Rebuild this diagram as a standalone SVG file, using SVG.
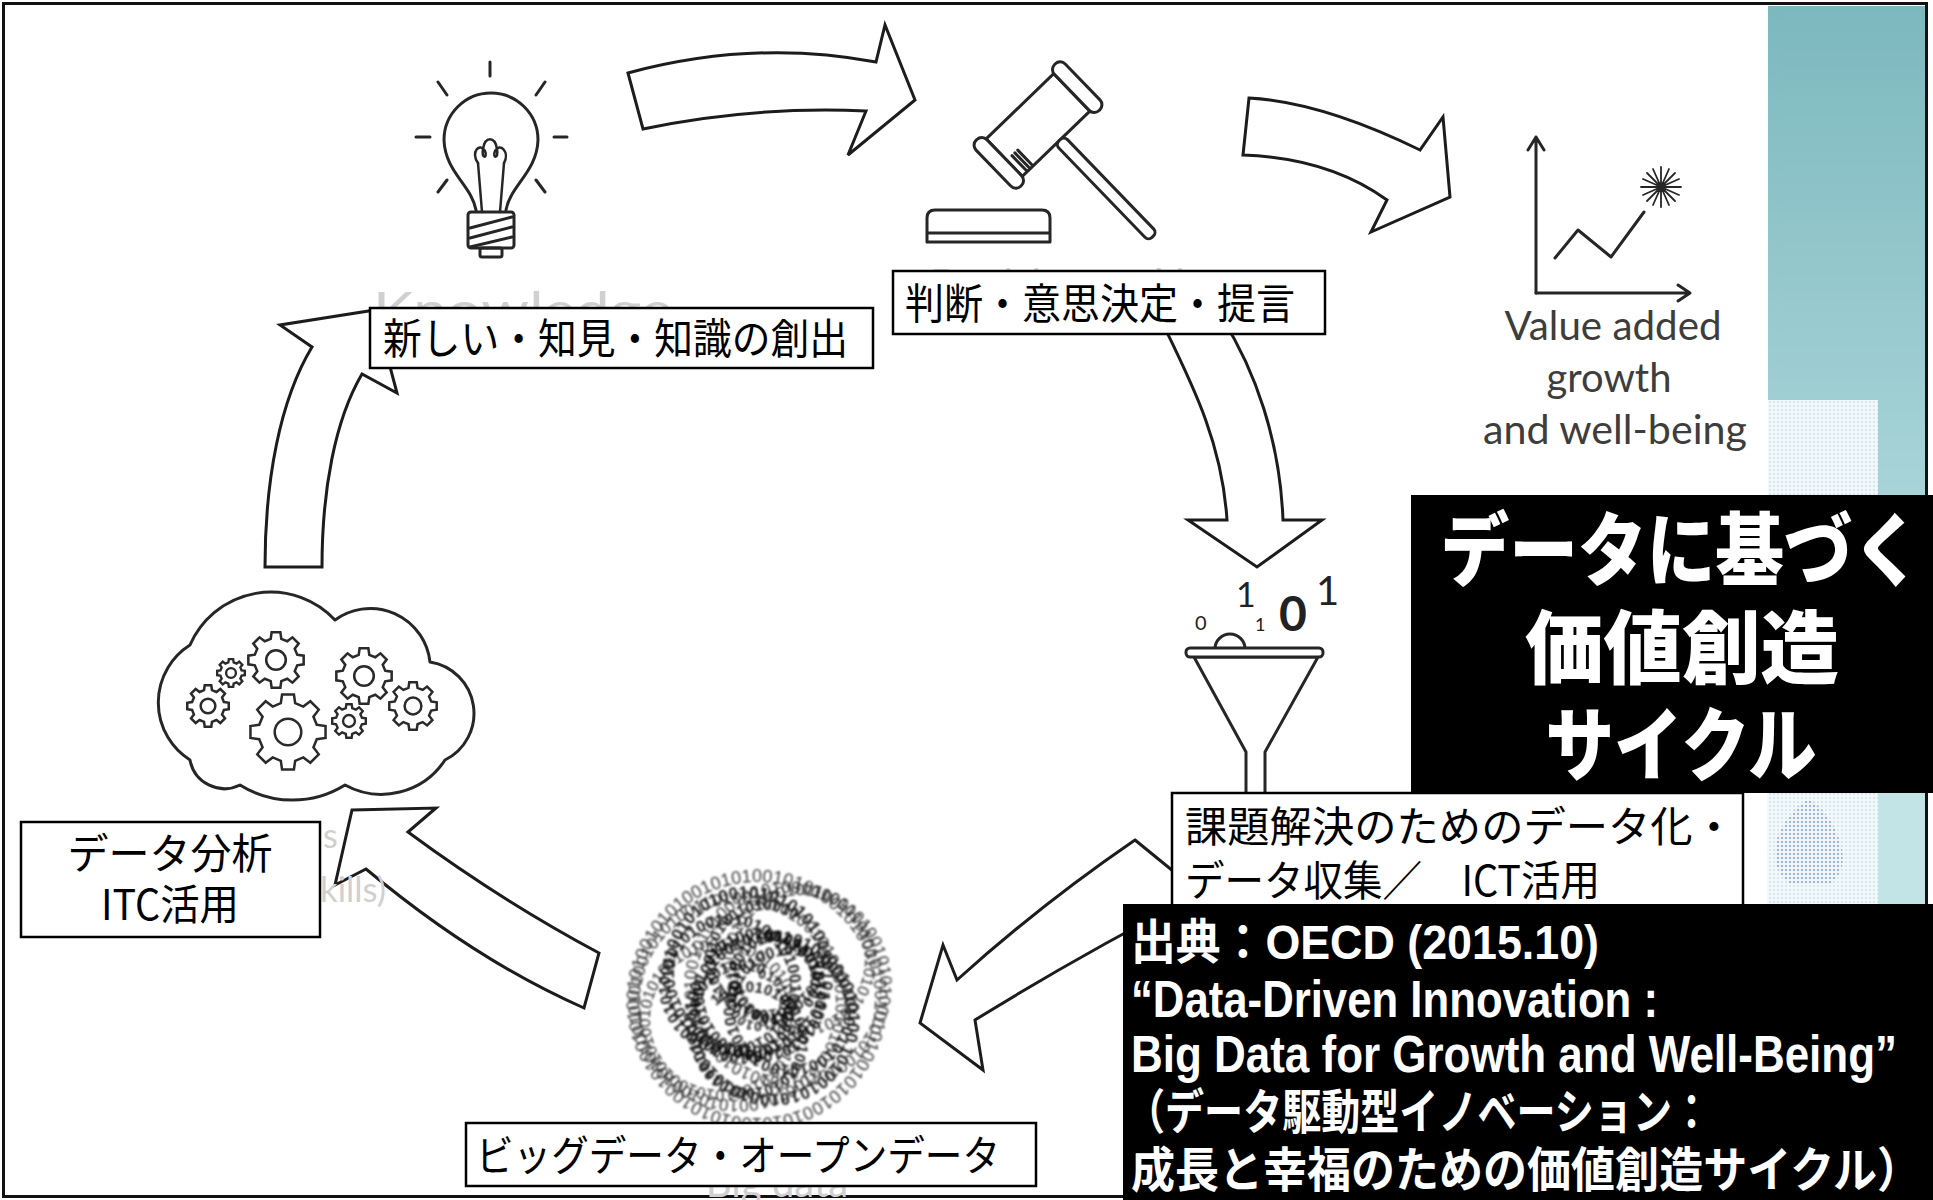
<svg xmlns="http://www.w3.org/2000/svg" width="1933" height="1200" viewBox="0 0 1933 1200">
<defs>
<style>
.arrow{fill:#fff;stroke:#1c1c1c;stroke-width:3;stroke-linejoin:miter}
.icon{fill:none;stroke:#262626;stroke-width:3;stroke-linecap:round;stroke-linejoin:round}
.iconw{fill:#fff;stroke:#262626;stroke-width:3;stroke-linejoin:round}
.box{fill:#fff;stroke:#000;stroke-width:2.5}
.lbl{font-family:'Noto Sans CJK JP','Noto Sans CJK SC',sans-serif;font-size:42px;fill:#000}
.title{font-family:'Noto Sans CJK JP','Noto Sans CJK SC',sans-serif;font-weight:900;font-size:80px;fill:#fff;text-anchor:middle}
.src{font-family:'Liberation Sans','Noto Sans CJK JP',sans-serif;font-weight:700;fill:#fff}
.ghost{font-family:Lato,'Open Sans',sans-serif;fill:#d0d0d0}
.eng{font-family:Lato,'Open Sans',sans-serif;font-size:40px;fill:#3d3d3d;text-anchor:middle}
.bits{font-family:'Liberation Sans',sans-serif}
.digit{font-family:Lato,'Liberation Sans',sans-serif;fill:#222}
.gear{fill:#fff;fill-rule:evenodd;stroke:#2a2a2a}
</style>
<linearGradient id="teal" x1="0" y1="0" x2="0" y2="1">
<stop offset="0" stop-color="#7cb8be"/>
<stop offset="1" stop-color="#a8d4d8"/>
</linearGradient>
<pattern id="dots" width="4" height="4" patternUnits="userSpaceOnUse">
<rect width="4" height="4" fill="#f3f9fa"/>
<rect x="1" y="1" width="2" height="2" fill="#d3e8ec"/>
</pattern>
<pattern id="mapdots" width="4" height="4" patternUnits="userSpaceOnUse">
<rect width="4" height="4" fill="#eef4fb"/>
<rect x="1" y="1" width="2" height="2" fill="#8aa6d8"/>
</pattern>
<filter id="soft" x="-10%" y="-10%" width="120%" height="120%">
<feGaussianBlur stdDeviation="0.9"/>
</filter>
<!-- gear outline, outer radius 100, with centre hole -->
<path id="gear" d="M75.7,-18.9 L98.8,-15.6 L98.8,15.6 L75.7,18.9 L66.9,40.2 L80.9,58.8 L58.8,80.9 L40.2,66.9 L18.9,75.7 L15.6,98.8 L-15.6,98.8 L-18.9,75.7 L-40.2,66.9 L-58.8,80.9 L-80.9,58.8 L-66.9,40.2 L-75.7,18.9 L-98.8,15.6 L-98.8,-15.6 L-75.7,-18.9 L-66.9,-40.2 L-80.9,-58.8 L-58.8,-80.9 L-40.2,-66.9 L-18.9,-75.7 L-15.6,-98.8 L15.6,-98.8 L18.9,-75.7 L40.2,-66.9 L58.8,-80.9 L80.9,-58.8 L66.9,-40.2 Z M35,0 A35,35 0 1,0 -35,0 A35,35 0 1,0 35,0 Z"/>
<!-- rings for the binary tangle -->
<path id="r1" d="M639,1000 a118,118 0 1,1 236,0 a118,118 0 1,1 -236,0"/>
<path id="r2" d="M640,1002 a98,98 0 1,1 196,0 a98,98 0 1,1 -196,0"/>
<path id="r3" d="M696,985 a92,92 0 1,1 184,0 a92,92 0 1,1 -184,0"/>
<path id="r4" d="M674,972 a74,74 0 1,1 148,0 a74,74 0 1,1 -148,0"/>
<path id="r5" d="M696,1018 a76,76 0 1,1 152,0 a76,76 0 1,1 -152,0"/>
<path id="r6" d="M704,995 a56,56 0 1,1 112,0 a56,56 0 1,1 -112,0"/>
<path id="r7" d="M700,1012 a42,42 0 1,1 84,0 a42,42 0 1,1 -84,0"/>
<path id="r8" d="M739,978 a36,36 0 1,1 72,0 a36,36 0 1,1 -72,0"/>
<path id="r9" d="M736,1000 a22,22 0 1,1 44,0 a22,22 0 1,1 -44,0"/>
<path id="r10" d="M670,985 a60,60 0 1,1 120,0 a60,60 0 1,1 -120,0"/>
<path id="r11" d="M735,1010 a55,55 0 1,1 110,0 a55,55 0 1,1 -110,0"/>
<path id="r12" d="M715,960 a50,50 0 1,1 100,0 a50,50 0 1,1 -100,0"/>
<path id="r13" d="M702,1040 a48,48 0 1,1 96,0 a48,48 0 1,1 -96,0"/>
<path id="r14" d="M650,1020 a70,70 0 1,1 140,0 a70,70 0 1,1 -140,0"/>
<path id="r15" d="M735,960 a65,65 0 1,1 130,0 a65,65 0 1,1 -130,0"/>
</defs>

<rect width="1933" height="1200" fill="#fff"/>

<!-- slide decoration on the right -->
<g id="decor">
<rect x="1768" y="6" width="158" height="489" fill="url(#teal)"/>
<rect x="1768" y="400" width="110" height="95" fill="url(#dots)"/>
<rect x="1744" y="793" width="182" height="112" fill="#fff"/>
<rect x="1767" y="793" width="111" height="112" fill="url(#dots)"/>
<rect x="1878" y="793" width="48" height="112" fill="#c3e4e6"/>
<path d="M1808,799 C1822,806 1834,822 1840,842 C1846,860 1842,876 1830,884 L1790,884 C1778,876 1772,860 1776,842 C1782,822 1796,806 1808,799 Z" fill="url(#mapdots)" opacity="0.75"/>
</g>

<!-- outer frame -->
<rect x="3.5" y="3.5" width="1923" height="1193" fill="none" stroke="#111" stroke-width="3"/>

<!-- connectors: block arrows of the cycle -->
<g id="connectors">
<path class="arrow" d="M628,73 Q754,39 876,62 L885,25 L915,100 L848,155 L866,111 Q752,106 643,129 Z"/>
<path class="arrow" d="M1249,98 Q1322,102 1420,150 L1443,117 L1450,197 L1371,232 L1387,200 Q1329,158 1243,155 Z"/>
<path class="arrow" d="M1160,318 C1190,380 1222,440 1227,520 L1188,520 L1257,567 L1322,520 L1283,520 C1280,440 1255,370 1222,318 Z"/>
<path class="arrow" d="M1135,840 L1200,893 Q1080,955 975,1020 L983,1070 L920,1023 L943,945 L957,980 Q1040,905 1135,840 Z"/>
<path class="arrow" d="M352,810 L436,808 L408,832 Q500,900 599,953 L584,1008 Q475,960 366,869 L335,885 Z"/>
<path class="arrow" d="M265,567 C265,480 280,400 312,347 L280,325 L375,310 L397,393 L362,374 C335,420 322,490 322,567 Z"/>
</g>

<!-- knowledge: light bulb -->
<g id="node-knowledge">
<g class="icon">
<path d="M490,62 V76 M438,82 L447,95 M545,82 L536,95 M416,137 H430 M554,137 H567 M438,192 L447,180 M545,192 L536,180"/>
<path d="M476,210 C472,186 445,172 444,140 A47,47 0 1 1 538,140 C537,172 510,186 506,210"/>
<path d="M482,212 L478,163 M500,212 L504,163" stroke-width="2.5"/>
<path d="M478,163 C470,152 480,142 485,151 C488,158 481,160 483,149 C485,136 495,136 497,149 C499,160 492,158 495,151 C500,142 510,152 504,163" stroke-width="2.5"/>
<rect x="468" y="212" width="46" height="36" rx="3"/>
<path d="M470,228 L512,217 M470,238 L512,227 M470,247 L512,237"/>
<rect x="480" y="248" width="22" height="9" rx="2"/>
</g>
<text class="ghost" x="523" y="328" font-size="50" text-anchor="middle" textLength="300" lengthAdjust="spacingAndGlyphs">Knowledge</text>
<rect class="box" x="370" y="308" width="503" height="60"/>
<text class="lbl" x="383" y="354" textLength="465" lengthAdjust="spacingAndGlyphs">新しい・知見・知識の創出</text>
</g>

<!-- decision: gavel and block -->
<g id="node-decision">
<g transform="translate(1038,125) rotate(-44)">
<rect class="iconw" x="-47" y="-26" width="94" height="52"/>
<rect class="iconw" x="-1" y="26" width="12" height="134" rx="5"/>
<rect class="iconw" x="-62" y="-32" width="15" height="64" rx="7"/>
<rect class="iconw" x="47" y="-32" width="15" height="64" rx="7"/>
<path class="icon" d="M-40,4 V24 M-36,4 V24 M-32,4 V24" stroke-width="2"/>
</g>
<path class="iconw" d="M927,242 V218 Q927,210 935,210 H1042 Q1050,210 1050,218 V242 Z"/>
<path class="icon" d="M928,233 H1049"/>
<text class="ghost" x="1080" y="302" font-size="46" text-anchor="middle" textLength="300" lengthAdjust="spacingAndGlyphs">Decision making</text>
<rect class="box" x="893" y="271" width="432" height="63"/>
<text class="lbl" x="905" y="319" textLength="390" lengthAdjust="spacingAndGlyphs">判断・意思決定・提言</text>
</g>

<!-- value added: chart -->
<g id="node-value">
<g class="icon" stroke="#333" stroke-width="2.6">
<path d="M1536,293 V137 M1528,150 L1536,137 L1544,150"/>
<path d="M1536,293 H1690 M1678,285 L1690,293 L1678,301"/>
<path d="M1555,258 L1578,230 L1611,257 L1644,212"/>
<path d="M1661,167 V207 M1641,187 H1681 M1647,173 L1675,201 M1675,173 L1647,201 M1653,169 L1669,205 M1669,169 L1653,205 M1643,179 L1679,195 M1679,179 L1643,195" stroke-width="1.8"/>
</g>
<text class="eng" x="1613" y="340" textLength="217" lengthAdjust="spacingAndGlyphs">Value added</text>
<text class="eng" x="1609" y="392" textLength="125" lengthAdjust="spacingAndGlyphs">growth</text>
<text class="eng" x="1615" y="444" textLength="264" lengthAdjust="spacingAndGlyphs">and well-being</text>
</g>

<!-- datafication: funnel with bits -->
<g id="node-datafication">
<text class="digit" x="1195" y="630" font-size="20">0</text>
<text class="digit" x="1236" y="607" font-size="34">1</text>
<text class="digit" x="1255" y="631" font-size="18">1</text>
<text class="digit" x="1279" y="631" font-size="48" font-weight="700">0</text>
<text class="digit" x="1316" y="605" font-size="40">1</text>
<path class="icon" d="M1215,649 A15,15 0 0 1 1245,649" stroke-width="5"/>
<path class="iconw" d="M1194,657 L1318,657 L1265,752 L1265,800 L1246,800 L1246,752 Z"/>
<rect class="iconw" x="1186" y="648" width="137" height="9" rx="4"/>
<rect class="box" x="1172" y="793" width="571" height="130"/>
<text class="lbl" x="1185" y="842" font-size="44" textLength="550" lengthAdjust="spacingAndGlyphs">課題解決のためのデータ化・</text>
<text class="lbl" x="1185" y="896" font-size="44" textLength="415" lengthAdjust="spacingAndGlyphs">データ収集／　ICT活用</text>
</g>

<!-- big data: tangle of binary digits -->
<g id="node-bigdata">
<g filter="url(#soft)">
<text class="bits" font-size="18" fill="#3a3a3a"><textPath href="#r1">01010010101001010100101010010100101001010100101010010101001010100101001010100101</textPath></text>
<text class="bits" font-size="17" fill="#333" transform="rotate(70 738 1002)"><textPath href="#r2">10100101010010101001010100101001010010101001010100101010010101001010</textPath></text>
<text class="bits" font-size="17" fill="#333" transform="rotate(-50 788 985)"><textPath href="#r3">01001010100101010010101001010010100101010010101001010100101010010</textPath></text>
<text class="bits" font-size="16" fill="#2a2a2a" transform="rotate(230 720 1020)"><textPath href="#r14">0100101010010101001010100101001010010101001010100101010</textPath></text>
<text class="bits" font-size="16" fill="#2a2a2a" transform="rotate(100 800 960)"><textPath href="#r15">1001010100101010010101001010010100101010010101001010</textPath></text>
<text class="bits" font-size="17" font-weight="700" fill="#222" transform="rotate(120 748 972)"><textPath href="#r4">0101001010100101010010101001010010100101010010101001</textPath></text>
<text class="bits" font-size="17" font-weight="700" fill="#222" transform="rotate(200 772 1018)"><textPath href="#r5">1010010101001010100101010010100101001010100101010010</textPath></text>
<text class="bits" font-size="16" font-weight="700" fill="#1a1a1a" transform="rotate(300 730 985)"><textPath href="#r10">0010101001010100101010010100101001010100101</textPath></text>
<text class="bits" font-size="16" font-weight="700" fill="#1a1a1a" transform="rotate(10 790 1010)"><textPath href="#r11">1010100101010010101001010010100101010010</textPath></text>
<text class="bits" font-size="15" font-weight="700" fill="#1a1a1a" transform="rotate(180 765 960)"><textPath href="#r12">01001010100101010010101001010010</textPath></text>
<text class="bits" font-size="15" font-weight="700" fill="#1a1a1a" transform="rotate(45 750 1040)"><textPath href="#r13">10010101001010100101010010100101</textPath></text>
<text class="bits" font-size="16" font-weight="700" fill="#111" transform="rotate(30 760 995)"><textPath href="#r6">01010010101001010100101010010100101001</textPath></text>
<text class="bits" font-size="15" font-weight="700" fill="#111" transform="rotate(160 742 1012)"><textPath href="#r7">1010010101001010100101010010</textPath></text>
<text class="bits" font-size="15" font-weight="700" fill="#111" transform="rotate(250 775 978)"><textPath href="#r8">0100101010010101001010100</textPath></text>
<text class="bits" font-size="13" font-weight="700" fill="#111" transform="rotate(90 758 1000)"><textPath href="#r9">0101001010100101</textPath></text>
</g>
<text class="ghost" x="777" y="1197" font-size="40" text-anchor="middle">Big data</text>
<rect class="box" x="466" y="1123" width="570" height="63"/>
<text class="lbl" x="476" y="1171" textLength="524" lengthAdjust="spacingAndGlyphs">ビッグデータ・オープンデータ</text>
</g>

<!-- analytics: cloud with gears -->
<g id="node-analytics">
<path class="iconw" d="M190,760 A68,68 0 0 1 190,645 A88,88 0 0 1 335,620 A60,60 0 0 1 430,662 A52,52 0 0 1 445,760 A76,76 0 0 1 345,785 A99,99 0 0 1 240,785 A35,35 0 0 1 190,760 Z"/>
<use href="#gear" class="gear" transform="translate(276,660) scale(0.28)" stroke-width="9"/>
<use href="#gear" class="gear" transform="translate(231,673) scale(0.14)" stroke-width="17"/>
<use href="#gear" class="gear" transform="translate(208,706) scale(0.21)" stroke-width="12"/>
<use href="#gear" class="gear" transform="translate(288,732) scale(0.38)" stroke-width="6.6"/>
<use href="#gear" class="gear" transform="translate(364,676) scale(0.28)" stroke-width="9"/>
<use href="#gear" class="gear" transform="translate(349,721) scale(0.17)" stroke-width="14"/>
<use href="#gear" class="gear" transform="translate(413,706) scale(0.24)" stroke-width="10.4"/>
<text class="ghost" x="323" y="848" font-size="34" fill="#b8b8b8">s</text>
<text class="ghost" x="320" y="902" font-size="34" textLength="66" lengthAdjust="spacingAndGlyphs" fill="#b8b8b8">kills)</text>
<rect class="box" x="21" y="822" width="299" height="115"/>
<text class="lbl" x="170" y="869" font-size="40" text-anchor="middle" textLength="205" lengthAdjust="spacingAndGlyphs">データ分析</text>
<text class="lbl" x="170" y="920" font-size="40" text-anchor="middle" textLength="138" lengthAdjust="spacingAndGlyphs">ITC活用</text>
</g>

<!-- title panel -->
<g id="title">
<rect x="1411" y="495" width="522" height="298" fill="#000"/>
<text class="title" x="1681" y="579" textLength="481" lengthAdjust="spacingAndGlyphs">データに基づく</text>
<text class="title" x="1682" y="677" textLength="314" lengthAdjust="spacingAndGlyphs">価値創造</text>
<text class="title" x="1681" y="774" textLength="271" lengthAdjust="spacingAndGlyphs">サイクル</text>
</g>

<!-- source panel -->
<g id="source">
<rect x="1123" y="904" width="810" height="296" fill="#000"/>
<text class="src" x="1131" y="959" font-size="48" textLength="468" lengthAdjust="spacingAndGlyphs">出典：OECD (2015.10)</text>
<text class="src" x="1131" y="1017" font-size="52" textLength="527" lengthAdjust="spacingAndGlyphs">“Data-Driven Innovation :</text>
<text class="src" x="1131" y="1072" font-size="52" textLength="766" lengthAdjust="spacingAndGlyphs">Big Data for Growth and Well-Being”</text>
<text class="src" x="1126" y="1129" font-size="48" textLength="585" lengthAdjust="spacingAndGlyphs">（データ駆動型イノベーション：</text>
<text class="src" x="1131" y="1187" font-size="48" textLength="790" lengthAdjust="spacingAndGlyphs">成長と幸福のための価値創造サイクル）</text>
</g>
</svg>
